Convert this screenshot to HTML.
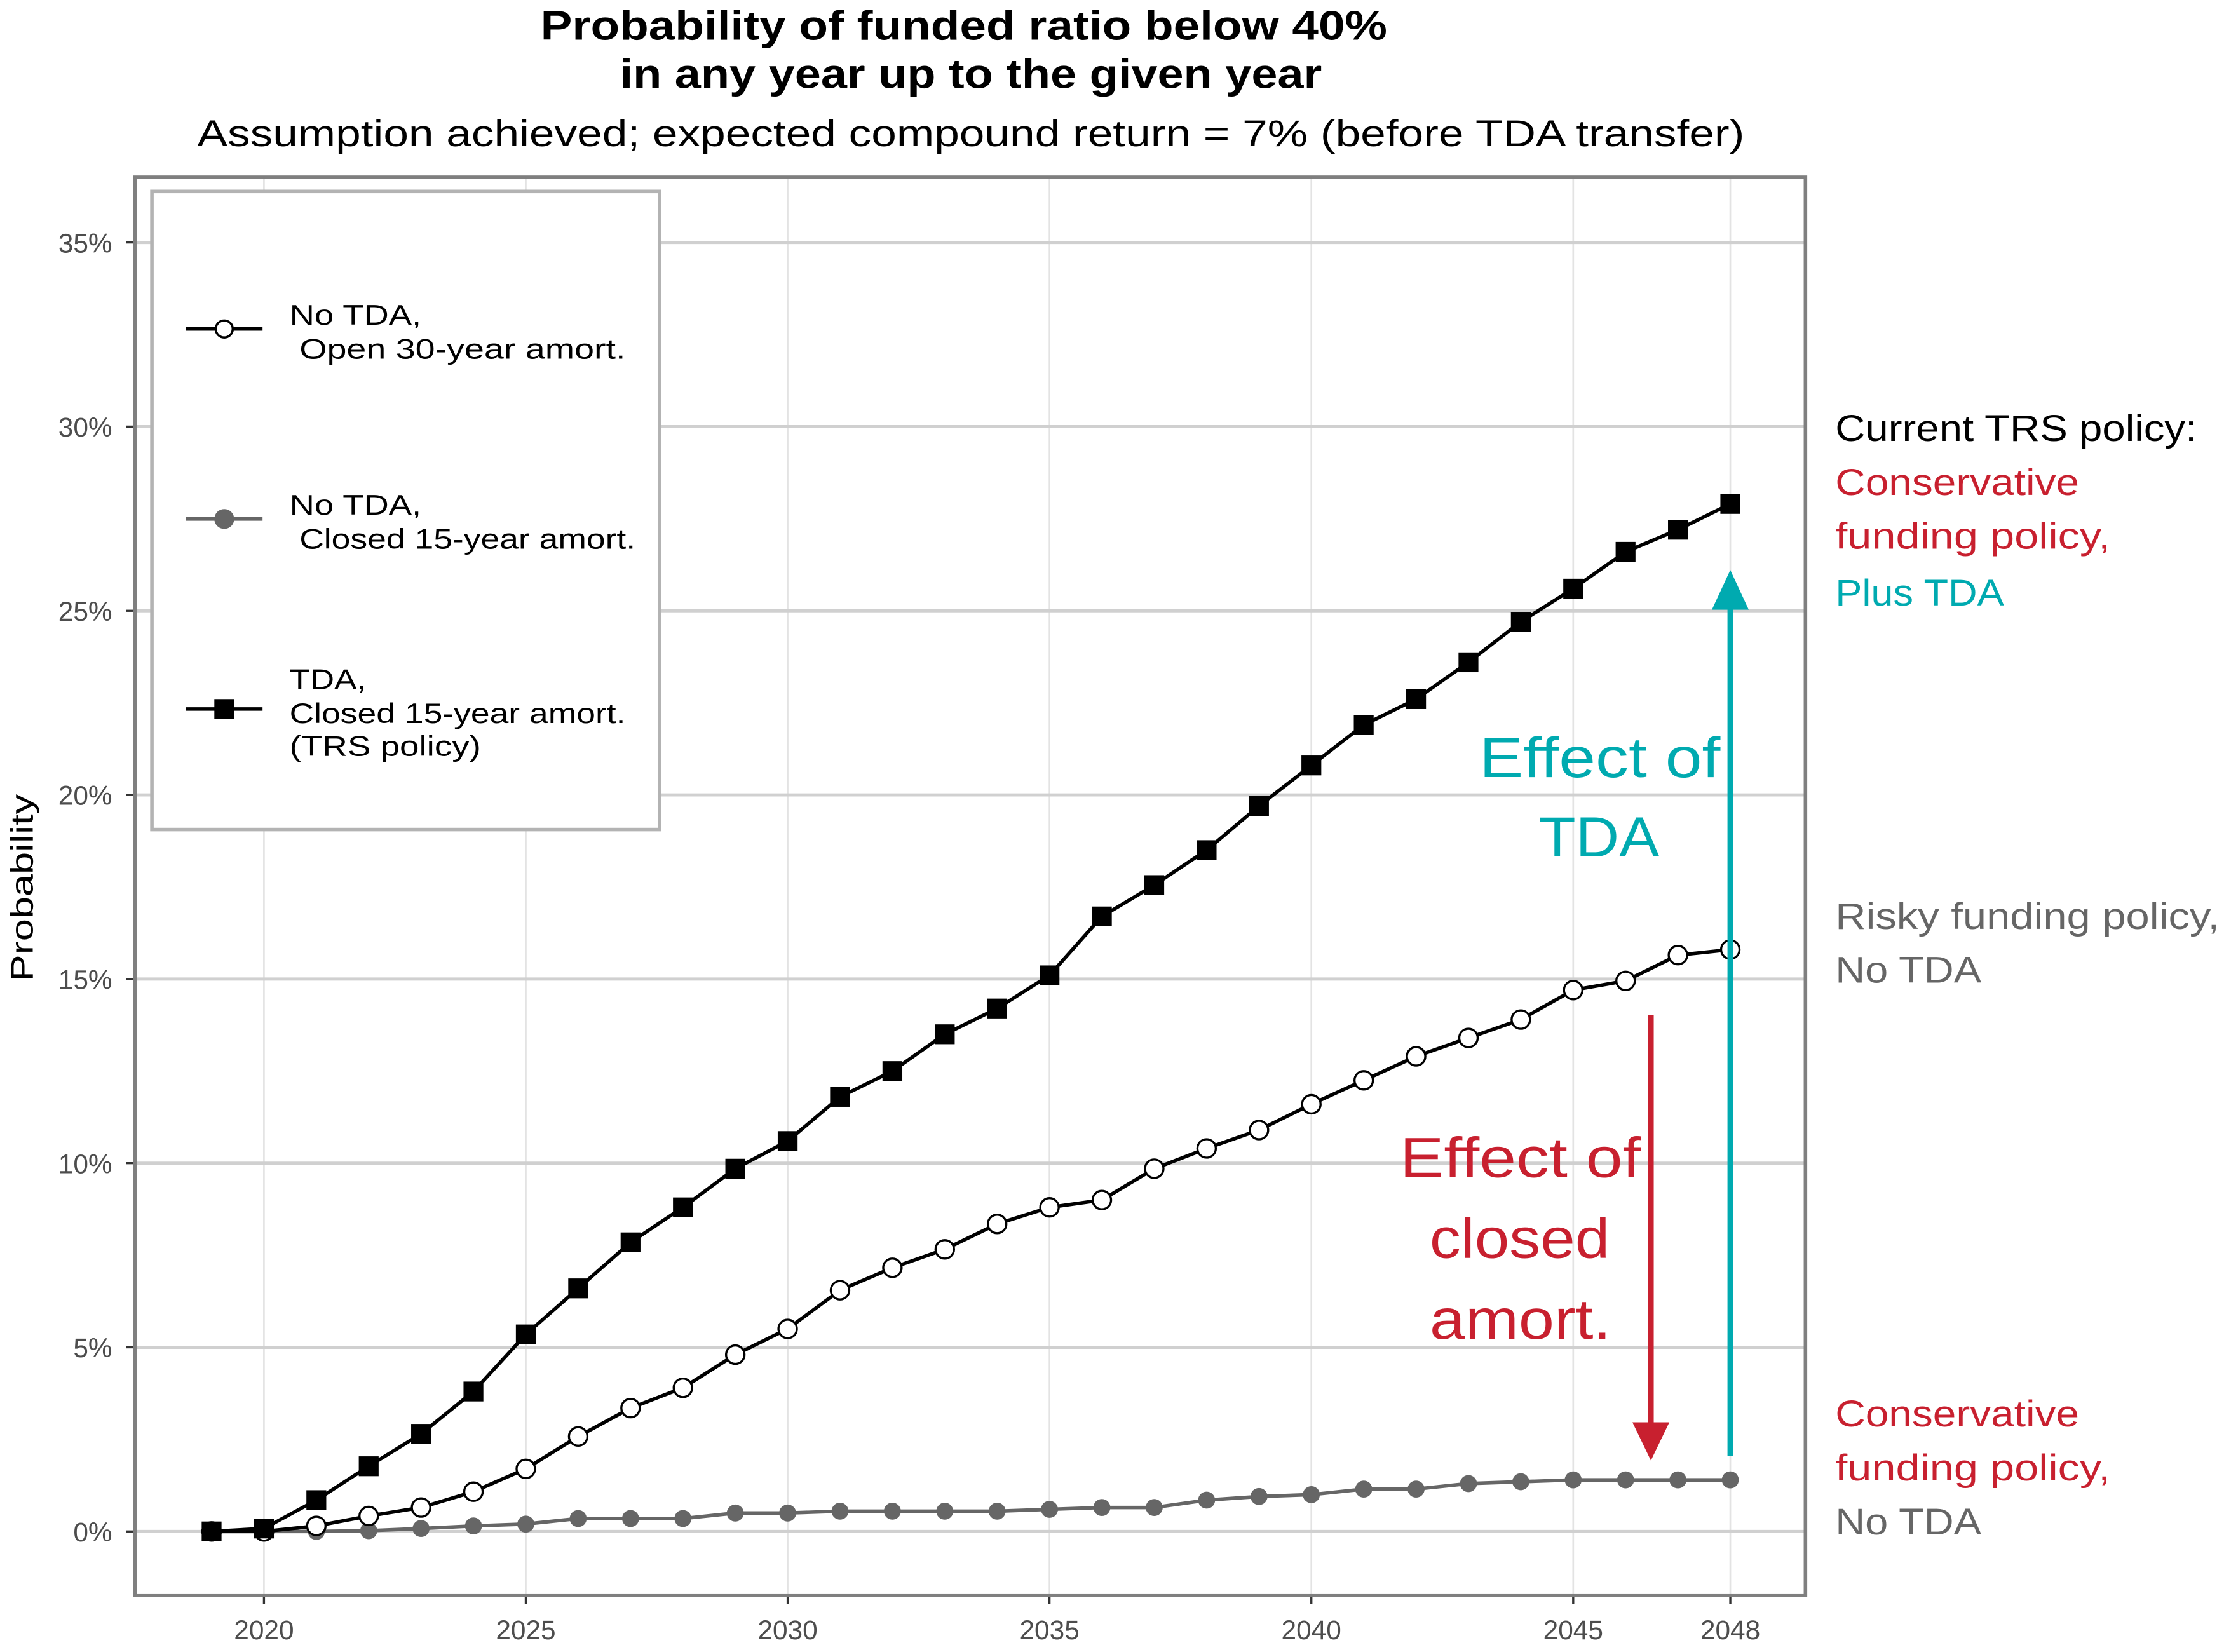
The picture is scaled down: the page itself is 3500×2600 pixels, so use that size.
<!DOCTYPE html>
<html><head><meta charset="utf-8"><style>
html,body{margin:0;padding:0;background:#fff;}
svg{display:block;font-family:"Liberation Sans",sans-serif;}
</style></head><body>
<svg id="chart" width="3500" height="2600" viewBox="0 0 1568 1165" xmlns="http://www.w3.org/2000/svg">
<rect width="1568" height="1165" fill="#fff"/>
<text x="381" y="28" font-size="29" font-weight="bold" textLength="597" lengthAdjust="spacingAndGlyphs">Probability of funded ratio below 40%</text>
<text x="437" y="62" font-size="29" font-weight="bold" textLength="495" lengthAdjust="spacingAndGlyphs">in any year up to the given year</text>
<text x="139" y="103" font-size="26" textLength="1091" lengthAdjust="spacingAndGlyphs">Assumption achieved; expected compound return = 7% (before TDA transfer)</text>
<g id="grid"></g>
<g id="axes"></g>
<g id="series"></g>
<rect x="95" y="125" width="1178" height="1000" fill="none" stroke="#7f7f7f" stroke-width="2.5"/>
<text transform="translate(23,626) rotate(-90)" text-anchor="middle" font-size="22" textLength="132" lengthAdjust="spacingAndGlyphs">Probability</text>
<g>
<rect x="107" y="135" width="358" height="450" fill="#fff" stroke="#b3b3b3" stroke-width="2.5"/>
<g>
<line x1="131" y1="232" x2="185" y2="232" stroke="#000" stroke-width="2.5"/><circle cx="158" cy="232" r="6" fill="#fff" stroke="#000" stroke-width="1.6"/>
<text x="204" y="229" font-size="20" textLength="93" lengthAdjust="spacingAndGlyphs">No TDA,</text><text x="211" y="253" font-size="20" textLength="230" lengthAdjust="spacingAndGlyphs">Open 30-year amort.</text></g>
<g>
<line x1="131" y1="366" x2="185" y2="366" stroke="#666" stroke-width="2.5"/><circle cx="158" cy="366" r="7" fill="#666"/>
<text x="204" y="363" font-size="20" textLength="93" lengthAdjust="spacingAndGlyphs">No TDA,</text><text x="211" y="387" font-size="20" textLength="237" lengthAdjust="spacingAndGlyphs">Closed 15-year amort.</text></g>
<g>
<line x1="131" y1="500" x2="185" y2="500" stroke="#000" stroke-width="2.5"/><rect x="151" y="493" width="14" height="14" fill="#000"/>
<text x="204" y="486" font-size="20" textLength="54" lengthAdjust="spacingAndGlyphs">TDA,</text><text x="204" y="510" font-size="20" textLength="237" lengthAdjust="spacingAndGlyphs">Closed 15-year amort.</text><text x="204" y="533" font-size="20" textLength="135" lengthAdjust="spacingAndGlyphs">(TRS policy)</text></g>
</g>
<g>
<line x1="1220" y1="1027" x2="1220" y2="425" stroke="#00aab0" stroke-width="4"/>
<polygon points="1207,430 1233,430 1220,402" fill="#00aab0"/>
</g>
<g>
<line x1="1164" y1="716" x2="1164" y2="1008" stroke="#c8202f" stroke-width="4"/>
<polygon points="1151,1003 1177,1003 1164,1030" fill="#c8202f"/>
</g>
<g font-size="40">
<text x="1043" y="548" fill="#00aab0" textLength="170" lengthAdjust="spacingAndGlyphs">Effect of</text>
<text x="1085" y="604" fill="#00aab0" textLength="85" lengthAdjust="spacingAndGlyphs">TDA</text>
<text x="987" y="830" fill="#c8202f" textLength="170" lengthAdjust="spacingAndGlyphs">Effect of</text>
<text x="1008" y="887" fill="#c8202f" textLength="127" lengthAdjust="spacingAndGlyphs">closed</text>
<text x="1008" y="944" fill="#c8202f" textLength="128" lengthAdjust="spacingAndGlyphs">amort.</text>
</g>
<g font-size="26">
<text x="1294" y="311" fill="#000" textLength="255" lengthAdjust="spacingAndGlyphs">Current TRS policy:</text>
<text x="1294" y="349" fill="#c8202f" textLength="172" lengthAdjust="spacingAndGlyphs">Conservative</text>
<text x="1294" y="387" fill="#c8202f" textLength="194" lengthAdjust="spacingAndGlyphs">funding policy,</text>
<text x="1294" y="427" fill="#00aab0" textLength="119" lengthAdjust="spacingAndGlyphs">Plus TDA</text>
<text x="1294" y="655" fill="#666" textLength="271" lengthAdjust="spacingAndGlyphs">Risky funding policy,</text>
<text x="1294" y="693" fill="#666" textLength="103" lengthAdjust="spacingAndGlyphs">No TDA</text>
<text x="1294" y="1006" fill="#c8202f" textLength="172" lengthAdjust="spacingAndGlyphs">Conservative</text>
<text x="1294" y="1044" fill="#c8202f" textLength="194" lengthAdjust="spacingAndGlyphs">funding policy,</text>
<text x="1294" y="1082" fill="#666" textLength="103" lengthAdjust="spacingAndGlyphs">No TDA</text>
</g>
</svg>
<script>
const years=[2019,2020,2021,2022,2023,2024,2025,2026,2027,2028,2029,2030,2031,2032,2033,2034,2035,2036,2037,2038,2039,2040,2041,2042,2043,2044,2045,2046,2047,2048];
const openAmort=[0,0,0.15,0.42,0.65,1.08,1.7,2.58,3.35,3.9,4.8,5.5,6.55,7.16,7.66,8.35,8.8,9.0,9.85,10.4,10.9,11.6,12.25,12.9,13.4,13.9,14.7,14.95,15.65,15.8];
const closedAmort=[0,0,0,0.02,0.08,0.15,0.2,0.35,0.35,0.35,0.5,0.5,0.55,0.55,0.55,0.55,0.6,0.65,0.65,0.85,0.95,1.0,1.15,1.15,1.3,1.35,1.4,1.4,1.4,1.4];
const tdaClosed=[0,0.08,0.85,1.77,2.65,3.8,5.35,6.6,7.85,8.8,9.85,10.6,11.8,12.5,13.5,14.2,15.1,16.7,17.55,18.5,19.7,20.8,21.9,22.6,23.6,24.7,25.6,26.6,27.2,27.9];
const yTicks=[0,5,10,15,20,25,30,35];
const yTickLabels=["0%","5%","10%","15%","20%","25%","30%","35%"];
const xTicks=[2020,2025,2030,2035,2040,2045,2048];
const xTickLabels=["2020","2025","2030","2035","2040","2045","2048"];

const NS="http://www.w3.org/2000/svg";
const X=v=>186+(v-2020)*(1220-186)/28;
const Y=v=>1080-v*(1080-171)/35;
function mk(tag,attrs,parent){const e=document.createElementNS(NS,tag);for(const k in attrs)e.setAttribute(k,attrs[k]);parent.appendChild(e);return e;}
const grid=document.getElementById('grid'),axes=document.getElementById('axes'),series=document.getElementById('series');
xTicks.forEach((t,i)=>{
  const l=mk('line',{x1:X(t),x2:X(t),y1:125,y2:1125,stroke:'#e3e3e3','stroke-width':1.2},grid);
  
  
  const tk=mk('line',{x1:X(t),x2:X(t),y1:1125,y2:1131,stroke:'#333','stroke-width':1.5},axes);
  
  
  const tx=mk('text',{x:X(t),y:1156,'text-anchor':'middle','font-size':19,fill:'#4d4d4d'},axes);
  tx.textContent=xTickLabels[i];
  
  
});
yTicks.forEach((t,i)=>{
  const l=mk('line',{x1:95,x2:1273,y1:Y(t),y2:Y(t),stroke:'#d0d0d0','stroke-width':2.2},grid);
  
  
  const tk=mk('line',{x1:89,x2:95,y1:Y(t),y2:Y(t),stroke:'#333','stroke-width':1.5},axes);
  
  
  const tx=mk('text',{x:79,y:Y(t)+7,'text-anchor':'end','font-size':19,fill:'#4d4d4d'},axes);
  tx.textContent=yTickLabels[i];
  
  
});
function line(vals,color,name){
  const p=mk('polyline',{points:vals.map((v,i)=>X(years[i])+','+Y(v)).join(' '),fill:'none',stroke:color,'stroke-width':2.5},series);
  
  
}
line(closedAmort,'#666','line-closed-amort');
line(openAmort,'#000','line-open-amort');
line(tdaClosed,'#000','line-tda-closed');
closedAmort.forEach((v,i)=>{
  const c=mk('circle',{cx:X(years[i]),cy:Y(v),r:6,fill:'#666'},series);
  
  
});
openAmort.forEach((v,i)=>{
  const c=mk('circle',{cx:X(years[i]),cy:Y(v),r:6.5,fill:'#fff',stroke:'#000','stroke-width':1.5},series);
  
  
});
tdaClosed.forEach((v,i)=>{
  const r=mk('rect',{x:X(years[i])-7,y:Y(v)-7,width:14,height:14,fill:'#000'},series);
  
  
});
</script>
</body></html>
